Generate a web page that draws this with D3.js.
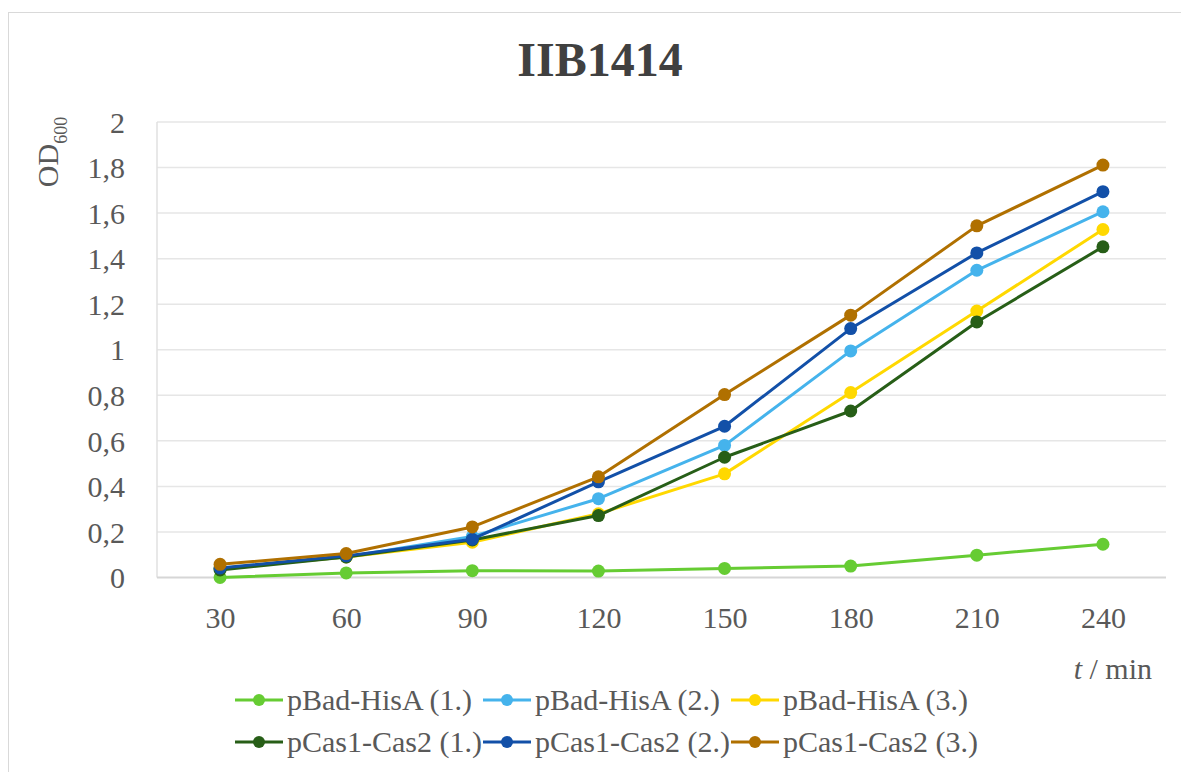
<!DOCTYPE html>
<html>
<head>
<meta charset="utf-8">
<script src="https://cdn.jsdelivr.net/npm/d3@7"></script>
<style>
  body { margin: 0; background: #fff; }
  svg { display: block; font-family: "Liberation Serif", "Times New Roman", serif; }
</style>
</head>
<body>
<div id="chart"></div>
<script>
var minutes = ["30", "60", "90", "120", "150", "180", "210", "240"];
var seriesNames = ["pBad-HisA (1.)", "pBad-HisA (2.)", "pBad-HisA (3.)",
                   "pCas1-Cas2 (1.)", "pCas1-Cas2 (2.)", "pCas1-Cas2 (3.)"];
var hisA1 = [0.0, 0.02, 0.03, 0.028, 0.04, 0.05, 0.098, 0.146];
var hisA2 = [0.04, 0.09, 0.18, 0.346, 0.58, 0.995, 1.349, 1.606];
var hisA3 = [0.04, 0.09, 0.155, 0.28, 0.455, 0.812, 1.17, 1.528];
var cas1 = [0.033, 0.09, 0.165, 0.272, 0.528, 0.731, 1.122, 1.452];
var cas2 = [0.042, 0.095, 0.168, 0.42, 0.664, 1.093, 1.425, 1.694];
var cas3 = [0.058, 0.105, 0.222, 0.442, 0.803, 1.152, 1.544, 1.811];
var yTicks = [0, 0.2, 0.4, 0.6, 0.8, 1, 1.2, 1.4, 1.6, 1.8, 2];

var allSeries = [hisA1, hisA2, hisA3, cas1, cas2, cas3];
var colors = ["#66CC33", "#45B3EC", "#FFD800", "#275E17", "#1250A8", "#B07000"];

var width = 1181,
    height = 772;

// plot box (note: "top" is taken by window.top, so prefix these)
var plotLeft = 157, plotRight = 1166, plotTop = 122, plotBottom = 577.5;

var svg = d3.select("#chart").append("svg")
    .attr("width", width)
    .attr("height", height);

// outer chart frame (only top/left edges are in view)
svg.append("rect")
    .attr("x", 8.5).attr("y", 12.5)
    .attr("width", 1200).attr("height", 800)
    .attr("fill", "none")
    .attr("stroke", "#D9D9D9");

var x = d3.scalePoint().domain(minutes).range([plotLeft, plotRight]).padding(0.5);
var y = d3.scaleLinear().domain([0, 2]).range([plotBottom, plotTop]);

var comma = d3.formatLocale({decimal: ",", thousands: ".", grouping: [3], currency: ["", ""]});
var fmt = comma.format(".1~f");

// gridlines
svg.append("g")
    .selectAll("line")
    .data(yTicks.slice(1))
    .enter().append("line")
    .attr("x1", plotLeft).attr("x2", plotRight)
    .attr("y1", function(d) { return y(d); })
    .attr("y2", function(d) { return y(d); })
    .attr("stroke", "#E6E6E6")
    .attr("stroke-width", 1.5);

// left edge + baseline
svg.append("line")
    .attr("x1", plotLeft).attr("x2", plotLeft)
    .attr("y1", plotTop).attr("y2", plotBottom)
    .attr("stroke", "#E0E0E0").attr("stroke-width", 1.5);
svg.append("line")
    .attr("x1", plotLeft).attr("x2", plotRight)
    .attr("y1", y(0)).attr("y2", y(0))
    .attr("stroke", "#D6D6D6").attr("stroke-width", 2);

// y axis labels
var yAxis = d3.axisLeft(y).tickValues(yTicks).tickFormat(fmt).tickSize(0).tickPadding(0);
var gy = svg.append("g")
    .attr("transform", "translate(125,0)")
    .call(yAxis);
gy.select(".domain").remove();
gy.selectAll("text")
    .attr("font-family", "Liberation Serif")
    .attr("font-size", 30)
    .attr("fill", "#595959")
    .attr("dy", "0.34em");

// x axis labels
var xAxis = d3.axisBottom(x).tickSize(0).tickPadding(0);
var gx = svg.append("g")
    .attr("transform", "translate(0,628)")
    .call(xAxis);
gx.select(".domain").remove();
gx.selectAll("text")
    .attr("font-family", "Liberation Serif")
    .attr("font-size", 30)
    .attr("fill", "#595959")
    .attr("dy", 0);

// lines and markers
var line = d3.line()
    .x(function(d, i) { return x(minutes[i]); })
    .y(function(d) { return y(d); });

allSeries.forEach(function(vals, s) {
    var g = svg.append("g");
    g.append("path")
        .attr("d", line(vals))
        .attr("fill", "none")
        .attr("stroke", colors[s])
        .attr("stroke-width", 3)
        .attr("stroke-linejoin", "round");
    g.selectAll("circle")
        .data(vals)
        .enter().append("circle")
        .attr("cx", function(d, i) { return x(minutes[i]); })
        .attr("cy", function(d) { return y(d); })
        .attr("r", 6.5)
        .attr("fill", colors[s]);
});

// title
svg.append("text")
    .attr("x", 600).attr("y", 76)
    .attr("text-anchor", "middle")
    .attr("font-size", 48)
    .attr("font-weight", "bold")
    .attr("fill", "#404040")
    .text("IIB1414");

// y axis title OD600
var yt = svg.append("text")
    .attr("transform", "translate(58,152) rotate(-90)")
    .attr("text-anchor", "middle")
    .attr("font-size", 30)
    .attr("fill", "#595959");
yt.append("tspan").text("OD");
yt.append("tspan").attr("font-size", 18).attr("dy", 9).text("600");

// x axis title
var xt = svg.append("text")
    .attr("x", 1152).attr("y", 679)
    .attr("text-anchor", "end")
    .attr("font-size", 30)
    .attr("fill", "#595959");
xt.append("tspan").attr("font-style", "italic").text("t");
xt.append("tspan").text(" / min");

// legend, 3 columns x 2 rows
var legend = svg.append("g");
seriesNames.forEach(function(name, i) {
    var col = i % 3, row = Math.floor(i / 3);
    var lx = 235 + col * 248, ly = 710 + row * 42;
    var item = legend.append("g").attr("transform", "translate(" + lx + "," + ly + ")");
    item.append("line")
        .attr("x1", 0).attr("x2", 48)
        .attr("y1", -10).attr("y2", -10)
        .attr("stroke", colors[i]).attr("stroke-width", 3);
    item.append("circle")
        .attr("cx", 24).attr("cy", -10).attr("r", 6)
        .attr("fill", colors[i]);
    item.append("text")
        .attr("x", 52).attr("y", 0)
        .attr("font-size", 30)
        .attr("fill", "#595959")
        .text(name);
});
</script>
</body>
</html>
